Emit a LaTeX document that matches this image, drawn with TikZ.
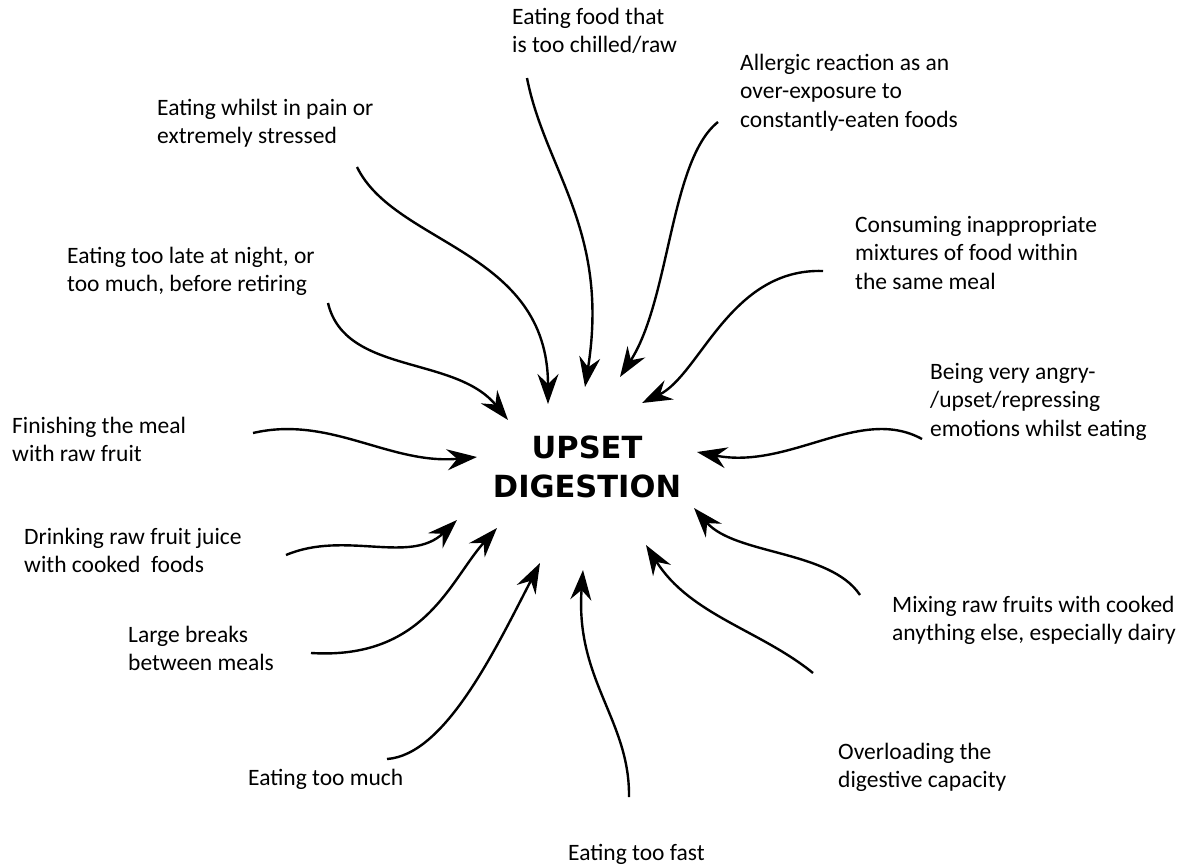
\documentclass[tikz,border=0pt]{standalone}
\usepackage{fontspec}
\setmainfont{Carlito}
\newfontfamily\dvfont{DejaVu Sans}
\usetikzlibrary{arrows.meta}
\begin{document}
\begin{tikzpicture}[x=1pt,y=-1pt,
  lbl/.style={anchor=base west, inner sep=0pt, font=\fontsize{23.5pt}{28.5pt}\selectfont},
  cause/.style={line width=2.4pt, line join=round, -{Stealth[length=30pt,width=21pt,inset=10pt]}}]
\useasboundingbox[fill=white] (0,0) rectangle (1187,865);

% centre
\node (c) [font=\dvfont\bfseries\fontsize{30.5pt}{39pt}\selectfont, inner sep=0pt, anchor=base] at (587,458)
  {\begin{tabular}[t]{@{}c@{}}UPSET\\DIGESTION\end{tabular}};

% labels
\node (t1) [lbl] at (512,24) {\begin{tabular}[t]{@{}l@{}}Eating food that\\is too chilled/raw\end{tabular}};
\node (t2) [lbl] at (740,70) {\begin{tabular}[t]{@{}l@{}}Allergic reaction as an\\over-exposure to\\constantly-eaten foods\end{tabular}};
\node (t3) [lbl] at (157,115) {\begin{tabular}[t]{@{}l@{}}Eating whilst in pain or\\extremely stressed\end{tabular}};
\node (t4) [lbl] at (855,232) {\begin{tabular}[t]{@{}l@{}}Consuming inappropriate\\mixtures of food within\\the same meal\end{tabular}};
\node (t5) [lbl] at (67,263) {\begin{tabular}[t]{@{}l@{}}Eating too late at night, or\\too much, before retiring\end{tabular}};
\node (t6) [lbl] at (930,379) {\begin{tabular}[t]{@{}l@{}}Being very angry-\\/upset/repressing\\emotions whilst eating\end{tabular}};
\node (t7) [lbl] at (12,433) {\begin{tabular}[t]{@{}l@{}}Finishing the meal\\with raw fruit\end{tabular}};
\node (t8) [lbl] at (24,544) {\begin{tabular}[t]{@{}l@{}}Drinking raw fruit juice\\with cooked\ \ foods\end{tabular}};
\node (t9) [lbl] at (892,612) {\begin{tabular}[t]{@{}l@{}}Mixing raw fruits with cooked\\anything else, especially dairy\end{tabular}};
\node (t10) [lbl] at (128,642) {\begin{tabular}[t]{@{}l@{}}Large breaks\\between meals\end{tabular}};
\node (t11) [lbl] at (838,759) {\begin{tabular}[t]{@{}l@{}}Overloading the\\digestive capacity\end{tabular}};
\node (t12) [lbl] at (248,785) {Eating too much};
\node (t13) [lbl] at (568,860) {Eating too fast};

% arrow ends
\coordinate (s1) at (527,78);  \coordinate (e1) at (585,387);
\coordinate (s2) at (718,122); \coordinate (e2) at (620,377);
\coordinate (s3) at (357,167); \coordinate (e3) at (548,404);
\coordinate (s4) at (823,271); \coordinate (e4) at (642,403);
\coordinate (s5) at (328,303); \coordinate (e5) at (508,420);
\coordinate (s6) at (922,439); \coordinate (e6) at (697,452);
\coordinate (s7) at (253,433); \coordinate (e7) at (477,457);
\coordinate (s8) at (286,555); \coordinate (e8) at (457,520);
\coordinate (s9) at (860,595); \coordinate (e9) at (694,508);
\coordinate (s10) at (311,653); \coordinate (e10) at (497,528);
\coordinate (s11) at (813,673); \coordinate (e11) at (646,545);
\coordinate (s12) at (387,759); \coordinate (e12) at (540,563);
\coordinate (s13) at (629,797); \coordinate (e13) at (583,570);

% arrows
\draw[cause] (s1) .. controls (545,170) and (610,230) .. (e1);
\draw[cause] (s2) .. controls (670,160) and (670,300) .. (e2);
\draw[cause] (s3) .. controls (395,245) and (548,250) .. (e3);
\draw[cause] (s4) .. controls (730,268) and (700,375) .. (e4);
\draw[cause] (s5) .. controls (345,375) and (455,355) .. (e5);
\draw[cause] (s6) .. controls (860,405) and (790,470) .. (e6);
\draw[cause] (s7) .. controls (330,415) and (390,465) .. (e7);
\draw[cause] (s8) .. controls (345,530) and (410,565) .. (e8);
\draw[cause] (s9) .. controls (830,550) and (735,555) .. (e9);
\draw[cause] (s10) .. controls (425,660) and (450,580) .. (e10);
\draw[cause] (s11) .. controls (760,630) and (690,615) .. (e11);
\draw[cause] (s12) .. controls (445,755) and (495,650) .. (e12);
\draw[cause] (s13) .. controls (630,720) and (575,680) .. (e13);
\end{tikzpicture}
\end{document}
